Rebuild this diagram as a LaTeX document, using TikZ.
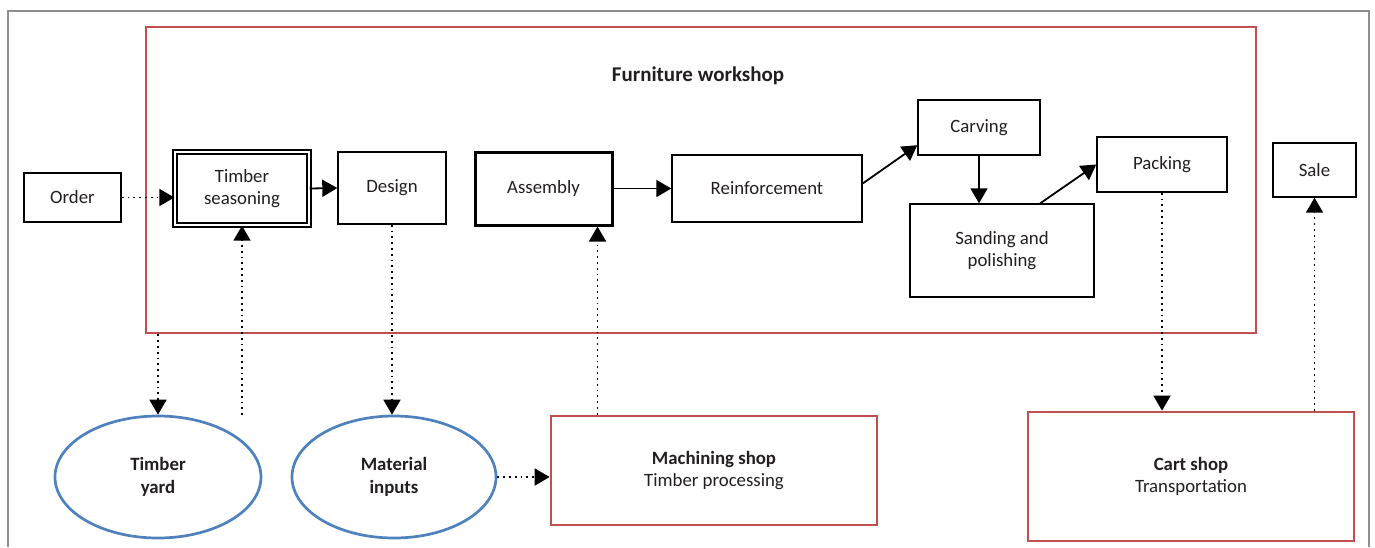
\documentclass[tikz,border=0pt]{standalone}
\usepackage{fontspec}
\setmainfont{Carlito}
\usetikzlibrary{arrows.meta,shapes.geometric}

\newlength{\du}
\setlength{\du}{0.5pt}

\definecolor{framegray}{rgb}{0.560000, 0.560000, 0.560000}
\definecolor{shopred}{rgb}{0.753000, 0.314000, 0.302000}
\definecolor{yardblue}{rgb}{0.310000, 0.506000, 0.741000}
\definecolor{inkgray}{rgb}{0.137000, 0.122000, 0.125000}

\tikzset{
  every node/.style={font=\fontsize{9.4}{11.3}\selectfont, text=inkgray},
  stepbox/.style={rectangle, draw=black, line width=0.7pt, inner sep=0pt, align=center, fill=white},
  thickbox/.style={stepbox, line width=1.5pt},
  shopbox/.style={rectangle, draw=shopred, line width=1.35pt, inner sep=0pt, align=center},
  yardnode/.style={ellipse, draw=yardblue, line width=1.35pt, inner sep=0pt, align=center,
    font=\fontsize{9.4}{11.3}\selectfont\bfseries},
  flow/.style={-{Triangle[length=7.5pt,width=8.5pt]}, line width=0.9pt, black},
  feed/.style={flow, dotted},
}

\begin{document}
\begin{tikzpicture}
\pgftransformxscale{1.000000}
\pgftransformyscale{-1.000000}
\useasboundingbox (0\du,0\du) rectangle (1375\du,547\du);
% outer frame, open at the bottom
\draw[framegray, line width=0.6pt] (8\du,547\du)--(8\du,11\du)--(1369\du,11\du)--(1369\du,547\du);
% workshop
\node[shopbox, minimum width=1110\du, minimum height=306\du] (workshop) at (701\du,180\du) {};
\node[font=\fontsize{10.5}{12}\selectfont\bfseries] (title) at (698\du,76\du) {Furniture workshop};
\node[stepbox, minimum width=97\du, minimum height=49\du] (order) at (72.5\du,197.5\du) {Order};
\node[stepbox, double, double distance=1.4pt, minimum width=134\du, minimum height=73\du] (tseason) at (242\du,188.5\du) {Timber\\seasoning};
\node[stepbox, minimum width=108\du, minimum height=72\du] (design) at (392\du,188\du) {Design};
\node[thickbox, minimum width=137\du, minimum height=73\du] (assembly) at (543.5\du,188.5\du) {Assembly};
\node[stepbox, minimum width=190\du, minimum height=67\du] (reinf) at (767\du,188.5\du) {Reinforcement};
\node[stepbox, minimum width=122\du, minimum height=55\du] (carving) at (979\du,127.5\du) {Carving};
\node[stepbox, minimum width=184\du, minimum height=93\du] (sanding) at (1002\du,250.5\du) {Sanding and\\polishing};
\node[stepbox, minimum width=130\du, minimum height=55\du] (packing) at (1162\du,164.5\du) {Packing};
\node[stepbox, minimum width=83\du, minimum height=54\du] (sale) at (1314.5\du,170\du) {Sale};
% outside the workshop
\node[yardnode, minimum width=206\du, minimum height=122\du] (tyard) at (158\du,477\du) {Timber\\yard};
\node[yardnode, minimum width=204\du, minimum height=122\du] (matin) at (394\du,477\du) {Material\\inputs};
\node[shopbox, minimum width=326\du, minimum height=109\du] (mach) at (714\du,470.5\du) {\textbf{Machining shop}\\Timber processing};
\node[shopbox, minimum width=326\du, minimum height=129\du] (cart) at (1191\du,476.5\du) {\textbf{Cart shop}\\Transportation};
\coordinate (tsfoot) at (242\du,415\du);

\draw[feed] (order.east) -- (order.east -| tseason.west);
\draw[flow] (tseason.east) -- (design.west);
\draw[feed] (tsfoot) -- (tseason.south);
\draw[feed] (workshop.south -| tyard.north) -- (tyard.north);
\draw[feed] (design.south) -- (design.south |- matin.north);
\draw[feed] (matin.east) -- (matin.east -| mach.west);
\draw[feed] ([xshift=-16\du]assembly.south east |- mach.north) -- ([xshift=-16\du]assembly.south east);
\draw[flow] (assembly.east) -- (reinf.west);
\draw[flow] (reinf.3) -- (carving.196);
\draw[flow] (carving.south) -- (carving.south |- sanding.north);
\draw[flow] (sanding.51) -- (packing.west);
\draw[feed] (packing.south) -- (packing.south |- cart.north);
\draw[feed] (sale.south |- cart.north) -- (sale.south);
\end{tikzpicture}
\end{document}
